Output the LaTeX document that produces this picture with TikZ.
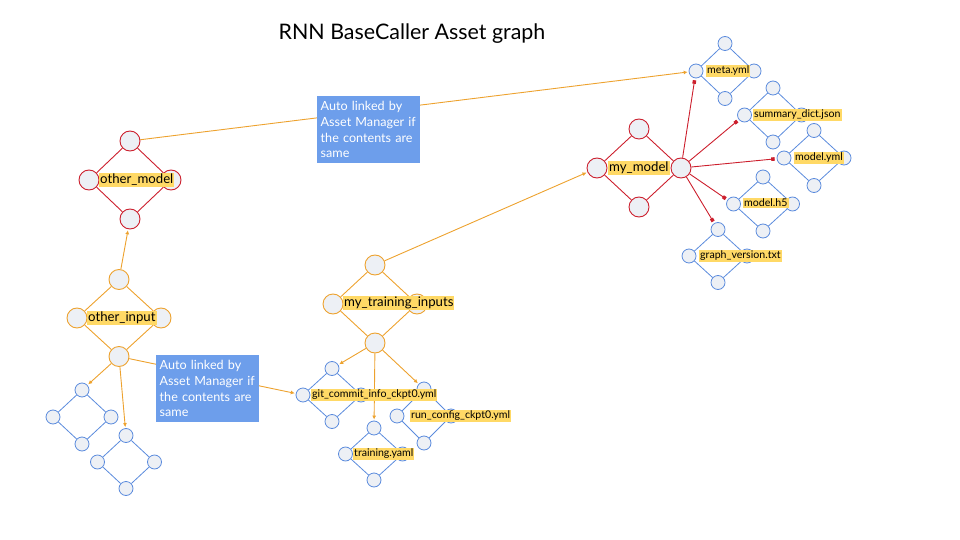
\documentclass[tikz,border=0pt]{standalone}
\usepackage{fontspec}
\setmainfont{Lato}
\usetikzlibrary{arrows.meta}
\pgfdeclarelayer{background}
\pgfsetlayers{background,main}
\definecolor{cred}{HTML}{CC1F2D}
\definecolor{corange}{HTML}{EDA22E}
\definecolor{cblue}{HTML}{5B8BDD}
\definecolor{cfill}{HTML}{EDF0F5}
\definecolor{chl}{HTML}{FFD966}
\definecolor{cbox}{HTML}{6D9EEB}
\tikzset{
  red circ/.style={circle,draw=cred,fill=cfill,line width=0.9pt,minimum size=20pt,inner sep=0pt},
  orange circ/.style={circle,draw=corange,fill=cfill,line width=0.9pt,minimum size=20pt,inner sep=0pt},
  blue circ/.style={circle,draw=cblue,fill=cfill,line width=0.8pt,minimum size=14pt,inner sep=0pt},
  red line/.style={draw=cred,line width=0.9pt},
  orange line/.style={draw=corange,line width=0.9pt},
  blue line/.style={draw=cblue,line width=0.8pt},
  bigl/.style={fill=chl,inner sep=1pt,anchor=west,font=\fontsize{13.2}{15.5}\selectfont},
  smalll/.style={fill=chl,inner xsep=1pt,inner ysep=1.5pt,anchor=west,font=\fontsize{10.6}{12.5}\selectfont},
  oarr/.style={draw=corange,line width=0.9pt,-{Latex[length=4pt,width=4pt]},shorten >=1pt},
  rarr/.style={draw=cred,line width=0.9pt,-{Square[length=3.5pt,width=3.5pt]},shorten >=2pt},
  notebox/.style={fill=cbox,text=white,anchor=north west,minimum width=102pt,minimum height=67pt,
    text width=96pt,align=left,inner xsep=3.5pt,inner ysep=2pt,font=\fontsize{12.6}{15.7}\selectfont},
}
\newcommand{\dmd}[6]{%
  \node[#6 circ] (#1t) at ({#2},{#3-#5}) {};
  \node[#6 circ] (#1l) at ({#2-#4},{#3}) {};
  \node[#6 circ] (#1r) at ({#2+#4},{#3}) {};
  \node[#6 circ] (#1b) at ({#2},{#3+#5}) {};
  \begin{pgfonlayer}{background}
    \draw[#6 line] (#1t) -- (#1l) -- (#1b) -- (#1r) -- (#1t);
  \end{pgfonlayer}}
\begin{document}
\begin{tikzpicture}[x=1pt,y=-1pt]
\useasboundingbox (0,0) rectangle (960,540);
\node[font=\fontsize{21.4}{25}\selectfont] (title) at (412,34) {RNN BaseCaller Asset graph};
% diamonds
\dmd{om}{130}{180}{41}{39}{red}
\dmd{oi}{119}{318}{42}{38.5}{orange}
\dmd{mt}{375}{304}{42}{39}{orange}
\dmd{mm}{639}{168}{42}{39}{red}
\dmd{da}{82}{417}{29}{27}{blue}
\dmd{db}{126}{462}{28.5}{26.5}{blue}
\dmd{gi}{332}{395}{29}{26.5}{blue}
\dmd{tr}{374}{454}{28.5}{26}{blue}
\dmd{rc}{424}{416}{27}{27}{blue}
\dmd{me}{725}{71}{29}{27.5}{blue}
\dmd{su}{773}{115}{28.5}{27}{blue}
\dmd{my}{814}{158}{30}{27.5}{blue}
\dmd{mh}{763}{204}{29.5}{27}{blue}
\dmd{gv}{718}{256}{29}{26.5}{blue}
% connectors
\begin{pgfonlayer}{background}
\draw[oarr] (oit) -- (omb);
\draw[oarr] (oib) -- (dat);
\draw[oarr] (oib) -- (dbt);
\draw[oarr] (oib) -- (gil);
\draw[oarr] (omt) -- (mel);
\draw[oarr] (mtt) -- (mml);
\draw[oarr] (mtb) -- (git);
\draw[oarr] (mtb) -- (trt);
\draw[oarr] (mtb) -- (rct);
\draw[rarr] (mmr) -- (mel);
\draw[rarr] (mmr) -- (sul);
\draw[rarr] (mmr) -- (myl);
\draw[rarr] (mmr) -- (mhl);
\draw[rarr] (mmr) -- (gvt);
\end{pgfonlayer}
% labels
\node[bigl] (omlab) at (99,180) {other\_model};
\node[bigl] (oilab) at (87,318) {other\_input};
\node[bigl] (mtlab) at (343,303) {my\_training\_inputs};
\node[bigl] (mmlab) at (608,168) {my\_model};
\node[smalll] (melab) at (706,71) {meta.yml};
\node[smalll] (sulab) at (753,115) {summary\_dict.json};
\node[smalll] (mylab) at (794,158) {model.yml};
\node[smalll] (mhlab) at (743,203) {model.h5};
\node[smalll] (gvlab) at (699,256) {graph\_version.txt};
\node[smalll] (gilab) at (311,395) {git\_commit\_info\_ckpt0.yml};
\node[smalll] (trlab) at (353,454) {training.yaml};
\node[smalll] (rclab) at (410,416) {run\_config\_ckpt0.yml};
% note boxes
\node[notebox] (note1) at (317,96) {Auto linked by Asset Manager if the contents are same};
\node[notebox] (note2) at (156,355) {Auto linked by Asset Manager if the contents are same};
\end{tikzpicture}
\end{document}
